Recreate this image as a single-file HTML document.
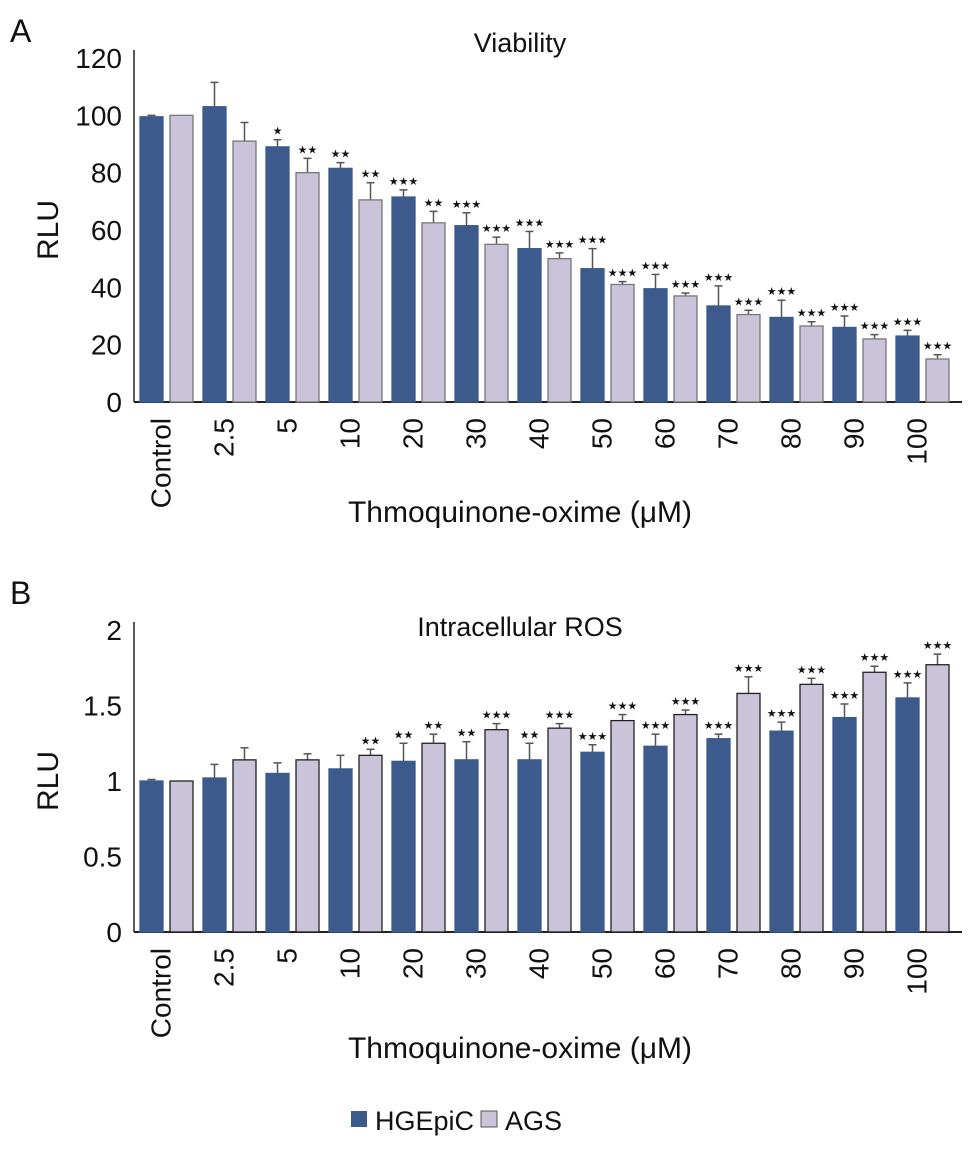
<!DOCTYPE html>
<html><head><meta charset="utf-8"><style>
body{margin:0;background:#fff;}
svg text{font-family:"Liberation Sans",sans-serif;fill:#111;}
</style></head><body>
<svg id="fig" width="969" height="1151" viewBox="0 0 969 1151" xmlns="http://www.w3.org/2000/svg"></svg>
<script>
const categories=["Control","2.5","5","10","20","30","40","50","60","70","80","90","100"];
const viabH=[99.5,103,89,81.5,71.5,61.5,53.5,46.5,39.5,33.5,29.5,26,23];
const viabHErr=[0.5,8.5,2.5,2,2.5,4.5,6,7,5,7,6,4,2];
const viabA=[100,91,80,70.5,62.5,55,50,41,37,30.5,26.5,22,15];
const viabAErr=[0,6.5,5,6,4,2.5,2,1,1,1.5,1.5,1.5,1.5];
const viabHStars=["","","*","**","***","***","***","***","***","***","***","***","***"];
const viabAStars=["","","**","**","**","***","***","***","***","***","***","***","***"];
const viabTicks=[0,20,40,60,80,100,120];
const rosH=[1.0,1.02,1.05,1.08,1.13,1.14,1.14,1.19,1.23,1.28,1.33,1.42,1.55];
const rosHErr=[0.01,0.09,0.07,0.09,0.12,0.12,0.11,0.05,0.08,0.03,0.06,0.09,0.1];
const rosA=[1.0,1.14,1.14,1.17,1.25,1.34,1.35,1.40,1.44,1.58,1.64,1.72,1.77];
const rosAErr=[0,0.08,0.04,0.04,0.06,0.04,0.03,0.04,0.03,0.11,0.04,0.04,0.07];
const rosHStars=["","","","","**","**","**","***","***","***","***","***","***"];
const rosAStars=["","","","**","**","***","***","***","***","***","***","***","***"];
const rosTicks=[0,0.5,1,1.5,2];
const tickText=["0","0.5","1","1.5","2"];

const svg=document.getElementById('fig');
const NS="http://www.w3.org/2000/svg";
function mk(tag,attrs,text){const e=document.createElementNS(NS,tag);for(const k in attrs)e.setAttribute(k,attrs[k]);if(text!==undefined)e.textContent=text;svg.appendChild(e);return e;}

function panel(o){
  const y=v=>o.y0-(v-o.min)/(o.max-o.min)*(o.y0-o.yTop);
  const gx=i=>140+i*63;
  let a=mk('line',{x1:134,y1:o.yTop-8,x2:134,y2:o.y0,stroke:'#222','stroke-width':1.5});
  
  a=mk('line',{x1:134,y1:o.y0,x2:962,y2:o.y0,stroke:'#222','stroke-width':2});
  
  o.ticks.forEach((t,i)=>{const e=mk('text',{x:122,y:y(t)+10,'text-anchor':'end','font-size':28},o.tickLabels?o.tickLabels[i]:String(t));
    });
  categories.forEach((c,i)=>{
    const x=gx(i);
    [[o.h,o.hErr,o.hStars,0,'#3d5a8c','#3d5a8c','hgepic'],[o.a,o.aErr,o.aStars,30,'#cbc3d9',o.aStroke,'ags']].forEach(s=>{
      const v=s[0][i],bx=x+s[3],w=23,top=y(v);
      const et=y(v+s[1][i]);
      if(s[1][i]>0){
        let l=mk('line',{x1:bx+w/2,y1:top,x2:bx+w/2,y2:et,stroke:'#555','stroke-width':1.5});
        
        l=mk('line',{x1:bx+w/2-4,y1:et,x2:bx+w/2+4,y2:et,stroke:'#555','stroke-width':1.5});
        
      }
      const r=mk('rect',{x:bx,y:top,width:w,height:o.y0-top,fill:s[4],stroke:s[5],'stroke-width':1.3});
      
      if(s[2][i]){const st=mk('text',{x:bx+w/2,y:et-5,'text-anchor':'middle','font-size':11},s[2][i].replace(/\*/g,'★'));
        }
    });
    const lx=x+23;
    const lb=mk('text',{x:lx,y:o.y0+16,'text-anchor':'end','font-size':28,transform:`rotate(-90 ${lx} ${o.y0+16})`,'dominant-baseline':'middle'},c);
    
  });
  let t=mk('text',{x:520,y:o.titleY,'text-anchor':'middle','font-size':27},o.title);
  
  t=mk('text',{x:520,y:o.xTitleY,'text-anchor':'middle','font-size':30},'Thmoquinone-oxime (μM)');
  
  const cy=(o.y0+o.yTop)/2;
  t=mk('text',{x:58,y:cy,'text-anchor':'middle','font-size':30,transform:`rotate(-90 58 ${cy})`},'RLU');
  
  t=mk('text',{x:10,y:o.letterY,'font-size':32},o.letter);
  
}
panel({id:'viability',y0:402,yTop:58,min:0,max:120,ticks:viabTicks,h:viabH,hErr:viabHErr,a:viabA,aErr:viabAErr,hStars:viabHStars,aStars:viabAStars,aStroke:'#777',title:'Viability',titleY:52,xTitleY:522,letter:'A',letterY:42});
panel({id:'ros',y0:932,yTop:630,min:0,max:2,ticks:rosTicks,tickLabels:tickText,h:rosH,hErr:rosHErr,a:rosA,aErr:rosAErr,hStars:rosHStars,aStars:rosAStars,aStroke:'#222',title:'Intracellular ROS',titleY:636,xTitleY:1058,letter:'B',letterY:604});
let r=mk('rect',{x:351,y:1111,width:16,height:16,fill:'#3d5a8c'});

let t=mk('text',{x:375,y:1130,'font-size':27},'HGEpiC');

r=mk('rect',{x:481,y:1111,width:16,height:16,fill:'#cbc3d9',stroke:'#555','stroke-width':1});

t=mk('text',{x:505,y:1130,'font-size':27},'AGS');

</script>
</body></html>
